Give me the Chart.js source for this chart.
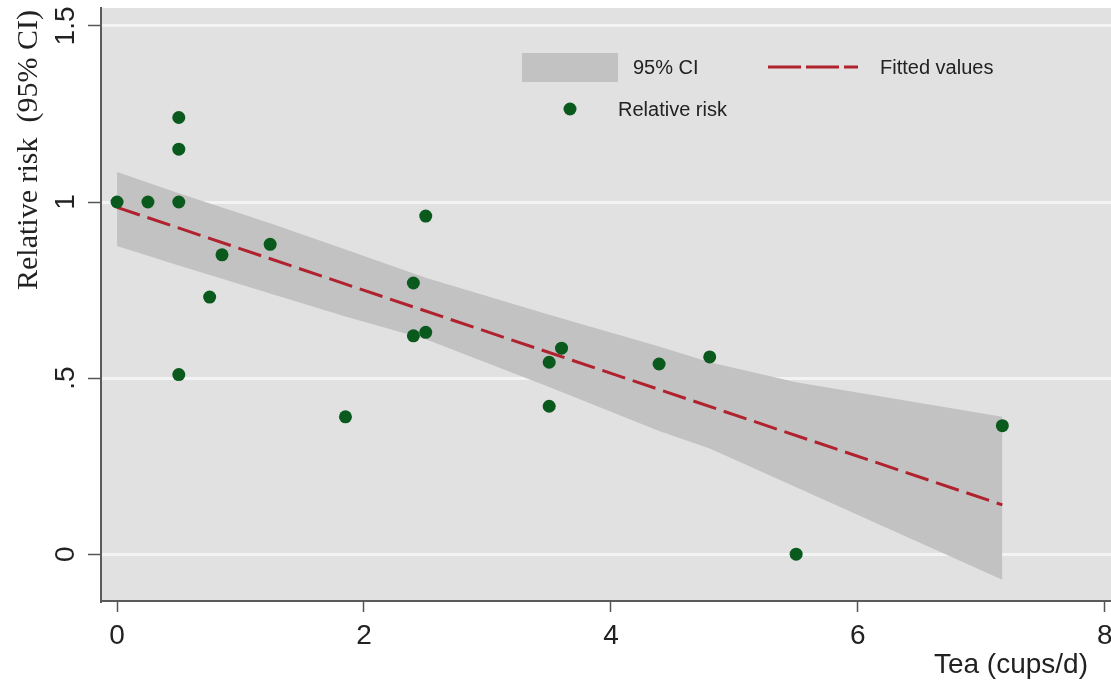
<!DOCTYPE html>
<html>
<head>
<meta charset="utf-8">
<title>Tea consumption and relative risk</title>
<script src="https://cdn.jsdelivr.net/npm/chart.js@4.4.1/dist/chart.umd.min.js"></script>
<style>
  html, body { margin: 0; padding: 0; background: #fff; }
  #wrap { width: 1111px; height: 682px; }
</style>
</head>
<body>
<div id="wrap"><canvas id="rrChart" width="1111" height="682"></canvas></div>
<script>
// study estimates
const teaCups = [0, 0.25, 0.5, 0.5, 0.5, 0.5, 0.75, 0.85, 1.24, 1.85, 2.4, 2.4, 2.5, 2.5, 3.5, 3.5, 3.6, 4.39, 4.8, 5.5, 7.17];
const relativeRisk = [1.0, 1.0, 1.24, 1.15, 1.0, 0.51, 0.73, 0.85, 0.88, 0.39, 0.77, 0.62, 0.63, 0.96, 0.545, 0.42, 0.585, 0.54, 0.56, 0.0, 0.365];

// linear fit and its 95% band
const fitX = [0, 7.17];
const fitY = [0.985, 0.14];
const ciX = [0, 0.5, 1.24, 1.85, 2.5, 3.5, 4.39, 4.8, 5.5, 7.17];
const ciUpper = [1.085, 1.025, 0.94, 0.865, 0.785, 0.68, 0.59, 0.545, 0.488, 0.39];
const ciLower = [0.875, 0.82, 0.74, 0.675, 0.61, 0.475, 0.35, 0.30, 0.19, -0.073];

// axis ticks
const xTicks = [0, 2, 4, 6, 8];
const xTickLabels = ["0", "2", "4", "6", "8"];
const yTicks = [0, 0.5, 1, 1.5];
const yTickLabels = ["0", ".5", "1", "1.5"];

const toPoints = (xs, ys) => xs.map((x, i) => ({ x: x, y: ys[i] }));

const sans = "'Liberation Sans', Arial, sans-serif";
const plotBg = "#e1e1e1";
const bandColor = "#c2c2c2";
const fitColor = "#b0222e";
const dotColor = "#0b5a1d";

// grey plot region, tick labels, axis titles and legend
const decorations = {
  id: "decorations",
  beforeDraw(chart) {
    const { ctx, chartArea } = chart;
    ctx.save();
    ctx.fillStyle = plotBg;
    ctx.fillRect(chartArea.left, chartArea.top, chartArea.right - chartArea.left, chartArea.bottom - chartArea.top);
    ctx.restore();
  },
  afterDraw(chart) {
    const { ctx } = chart;
    const xScale = chart.scales.x;
    const yScale = chart.scales.y;
    ctx.save();

    ctx.fillStyle = "#222";
    ctx.font = "28px " + sans;
    ctx.textAlign = "center";
    ctx.textBaseline = "middle";

    // x tick labels (drawn here so the last one can hang past the edge)
    xTicks.forEach((v, i) => {
      ctx.fillText(xTickLabels[i], xScale.getPixelForValue(v), 636);
    });

    // y tick labels, reading upwards
    yTicks.forEach((v, i) => {
      const py = yScale.getPixelForValue(v);
      ctx.save();
      ctx.translate(66, py);
      ctx.rotate(-Math.PI / 2);
      ctx.fillText(yTickLabels[i], 0, 0);
      ctx.restore();
    });

    // y title
    ctx.save();
    ctx.translate(29, 150);
    ctx.rotate(-Math.PI / 2);
    ctx.font = "30px 'Liberation Serif', 'Times New Roman', serif";
    ctx.fillText("Relative risk  (95% CI)", 0, 0);
    ctx.restore();

    // x title
    ctx.font = "28px " + sans;
    ctx.textAlign = "right";
    ctx.fillText("Tea (cups/d)", 1088, 665);

    // legend
    ctx.fillStyle = bandColor;
    ctx.fillRect(522, 53, 96, 29);

    ctx.strokeStyle = fitColor;
    ctx.lineWidth = 3;
    ctx.setLineDash([33, 5]);
    ctx.beginPath();
    ctx.moveTo(768, 67);
    ctx.lineTo(858, 67);
    ctx.stroke();
    ctx.setLineDash([]);

    ctx.fillStyle = dotColor;
    ctx.beginPath();
    ctx.arc(570, 109, 6.5, 0, Math.PI * 2);
    ctx.fill();

    ctx.fillStyle = "#222";
    ctx.font = "20px " + sans;
    ctx.textAlign = "left";
    ctx.fillText("95% CI", 633, 68);
    ctx.fillText("Fitted values", 880, 68);
    ctx.fillText("Relative risk", 618, 110);

    ctx.restore();
  },
};

document.addEventListener("DOMContentLoaded", () => {
  const ctx = document.getElementById("rrChart").getContext("2d");

  new Chart(ctx, {
    type: "scatter",
    data: {
      datasets: [
        {
          label: "Relative risk",
          data: toPoints(teaCups, relativeRisk),
          backgroundColor: dotColor,
          borderColor: dotColor,
          borderWidth: 0,
          pointRadius: 6.5,
          pointHoverRadius: 6.5,
        },
        {
          label: "Fitted values",
          data: toPoints(fitX, fitY),
          showLine: true,
          borderColor: fitColor,
          borderWidth: 3,
          borderDash: [24, 8],
          pointRadius: 0,
          fill: false,
        },
        {
          label: "95% CI",
          data: toPoints(ciX, ciUpper),
          showLine: true,
          borderWidth: 0,
          borderColor: bandColor,
          backgroundColor: bandColor,
          pointRadius: 0,
          fill: "+1",
        },
        {
          label: "95% CI lower",
          data: toPoints(ciX, ciLower),
          showLine: true,
          borderWidth: 0,
          borderColor: bandColor,
          pointRadius: 0,
          fill: false,
        },
      ],
    },
    options: {
      responsive: false,
      animation: false,
      layout: {
        autoPadding: false,
        padding: { top: 8, right: 0, left: 0, bottom: 0 },
      },
      plugins: {
        legend: { display: false },
        tooltip: { enabled: false },
      },
      scales: {
        x: {
          type: "linear",
          min: -0.13,
          max: 8.05,
          afterFit: (scale) => { scale.height = 81; },
          afterBuildTicks: (scale) => { scale.ticks = xTicks.map((v) => ({ value: v })); },
          border: { color: "#5a5a5a", width: 2 },
          grid: {
            drawOnChartArea: false,
            tickColor: "#555",
            tickLength: 11,
            tickWidth: 1.5,
          },
          ticks: { display: false },
        },
        y: {
          type: "linear",
          min: -0.133,
          max: 1.551,
          afterFit: (scale) => { scale.width = 101; },
          afterBuildTicks: (scale) => { scale.ticks = yTicks.map((v) => ({ value: v })); },
          border: { color: "#5a5a5a", width: 2 },
          grid: {
            color: "#f3f3f3",
            lineWidth: 3,
            tickColor: "#555",
            tickLength: 13,
            tickWidth: 1.5,
          },
          ticks: { display: false },
        },
      },
    },
    plugins: [decorations],
  });
});
</script>
</body>
</html>
